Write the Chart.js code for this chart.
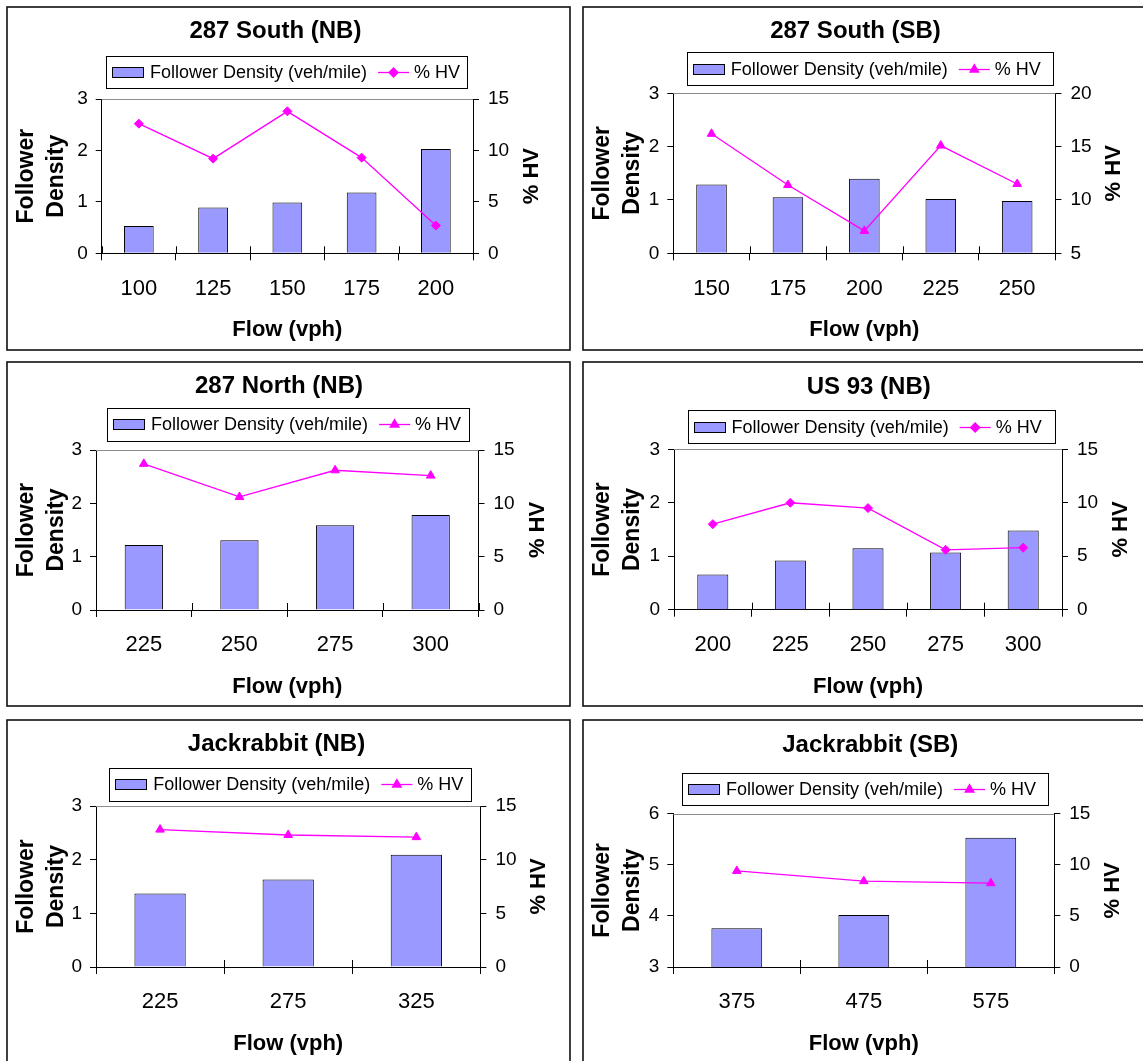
<!DOCTYPE html>
<html>
<head>
<meta charset="utf-8">
<title>Follower Density and % HV by Flow</title>
<script src="https://cdn.jsdelivr.net/npm/chart.js@4.4.1/dist/chart.umd.min.js"></script>
<style>
  html, body { margin: 0; padding: 0; background: #fff; }
  body { position: relative; width: 1143px; height: 1061px; overflow: hidden; }
  canvas { position: absolute; }
</style>
</head>
<body>
<canvas id="p0"></canvas>
<canvas id="p1"></canvas>
<canvas id="p2"></canvas>
<canvas id="p3"></canvas>
<canvas id="p4"></canvas>
<canvas id="p5"></canvas>
<script>
// ---- data -------------------------------------------------------------
const panelTitles = ['287 South (NB)', '287 South (SB)', '287 North (NB)',
                     'US 93 (NB)', 'Jackrabbit (NB)', 'Jackrabbit (SB)'];

const densityLabel = 'Follower Density (veh/mile)';
const hvLabel = '% HV';

const southNbFlow    = ['100', '125', '150', '175', '200'];
const southNbDensity = [0.53, 0.89, 0.99, 1.18, 2.03];
const southNbHv      = [12.6, 9.2, 13.8, 9.3, 2.7];

const southSbFlow    = ['150', '175', '200', '225', '250'];
const southSbDensity = [1.29, 1.05, 1.40, 1.02, 0.98];
const southSbHv      = [16.2, 11.4, 7.1, 15.1, 11.5];

const northNbFlow    = ['225', '250', '275', '300'];
const northNbDensity = [1.22, 1.31, 1.59, 1.78];
const northNbHv      = [13.7, 10.6, 13.1, 12.6];

const us93Flow       = ['200', '225', '250', '275', '300'];
const us93Density    = [0.66, 0.92, 1.15, 1.07, 1.48];
const us93Hv         = [8.0, 10.0, 9.5, 5.6, 5.8];

const jackNbFlow     = ['225', '275', '325'];
const jackNbDensity  = [1.37, 1.63, 2.09];
const jackNbHv       = [12.8, 12.3, 12.1];

const jackSbFlow     = ['375', '475', '575'];
const jackSbDensity  = [3.76, 4.02, 5.53];
const jackSbHv       = [9.4, 8.4, 8.2];

// axis ranges: [min, max, step]
const densityAxes = [[0, 3, 1], [0, 3, 1], [0, 3, 1], [0, 3, 1], [0, 3, 1], [3, 6, 1]];
const hvAxes      = [[0, 15, 5], [5, 20, 5], [0, 15, 5], [0, 15, 5], [0, 15, 5], [0, 15, 5]];

// ---- look -------------------------------------------------------------
const FONT = '"Liberation Sans", Arial, Helvetica, sans-serif';
const BAR_FILL = '#9999FF';
const HV_COLOR = '#FF00FF';

// panel frames: border box [x, y, w, h] on the page
// plot: [left, right, top, bottom] inside the canvas
// head: title centre [x, y]; legend box [x, y, w, h]
const layouts = [
  { box: [7, 7, 563, 343],     plot: [95.7, 467, 93, 247.3],   head: [269.4, 25.7], legend: [100, 49.7, 361, 31.7],   marker: 'rectRot' },
  { box: [583, 7, 563, 343],   plot: [91.3, 473.4, 87.3, 247.3], head: [273.5, 25.7], legend: [104.8, 46.3, 366, 32.7], marker: 'triangle' },
  { box: [7, 362, 563, 344],   plot: [90, 472.5, 89, 249],     head: [273, 25.7],   legend: [101, 46.7, 361.6, 32.6], marker: 'triangle' },
  { box: [583, 362, 563, 344], plot: [92, 480, 88.3, 248.7],   head: [286.7, 26.3], legend: [105.6, 49.3, 367, 33],   marker: 'rectRot' },
  { box: [7, 720, 563, 343],   plot: [90, 474.4, 87, 248],     head: [270.5, 25.3], legend: [103.3, 48.7, 362, 32.6], marker: 'triangle' },
  { box: [583, 720, 563, 343], plot: [91.3, 472.3, 94.7, 248], head: [288.3, 26.3], legend: [100, 53.7, 366, 32.3],   marker: 'triangle' }
];

const series = [
  [southNbFlow, southNbDensity, southNbHv],
  [southSbFlow, southSbDensity, southSbHv],
  [northNbFlow, northNbDensity, northNbHv],
  [us93Flow, us93Density, us93Hv],
  [jackNbFlow, jackNbDensity, jackNbHv],
  [jackSbFlow, jackSbDensity, jackSbHv]
];

function markerRadius(style) { return style === 'rectRot' ? 4.5 : 5; }

// frame, title, legend, axis titles and inner tick stubs
const decorPlugin = {
  id: 'decor',
  afterDraw(chart, args, o) {
    const ctx = chart.ctx;
    const { left, right, top, bottom } = chart.chartArea;
    const W = chart.width, H = chart.height;
    ctx.save();

    // outer panel border
    ctx.strokeStyle = '#111';
    ctx.lineWidth = 1.6;
    ctx.strokeRect(1, 1, W - 2, H - 2);

    // plot area top edge (grey)
    ctx.strokeStyle = '#8c8c8c';
    ctx.lineWidth = 1;
    const ty = Math.round(top) + 0.5;
    ctx.beginPath(); ctx.moveTo(left, ty); ctx.lineTo(right, ty); ctx.stroke();

    // category tick stubs reaching into the plot
    const xs = chart.scales.x;
    const n = chart.data.labels.length;
    ctx.strokeStyle = '#000';
    ctx.beginPath();
    for (let i = 0; i <= n; i++) {
      const px = Math.round(xs.getPixelForValue(i - 0.5)) + 0.5;
      ctx.moveTo(px, bottom); ctx.lineTo(px, bottom - 7);
    }
    ctx.stroke();

    // chart title
    ctx.fillStyle = '#000';
    ctx.textAlign = 'center';
    ctx.textBaseline = 'middle';
    ctx.font = 'bold 24px ' + FONT;
    ctx.fillText(o.title, o.head[0], o.head[1]);

    // legend
    const [lx, ly, lw, lh] = o.legend;
    ctx.strokeStyle = '#000';
    ctx.lineWidth = 1;
    ctx.strokeRect(Math.round(lx) + 0.5, Math.round(ly) + 0.5, Math.round(lw), Math.round(lh));
    const cy = Math.round(ly + lh / 2) + 0.5;
    const sx = Math.round(lx) + 6.5;
    ctx.fillStyle = BAR_FILL;
    ctx.fillRect(sx, cy - 5, 31, 10);
    ctx.strokeRect(sx, cy - 5, 31, 10);
    ctx.fillStyle = '#000';
    ctx.textAlign = 'left';
    ctx.font = '18px ' + FONT;
    const barText = chart.data.datasets[0].label;
    const lineText = chart.data.datasets[1].label;
    const tx = lx + 44;
    ctx.fillText(barText, tx, cy + 1);
    const x1 = tx + ctx.measureText(barText).width + 11;
    ctx.strokeStyle = HV_COLOR;
    ctx.lineWidth = 1.3;
    ctx.beginPath(); ctx.moveTo(x1, cy); ctx.lineTo(x1 + 31, cy); ctx.stroke();
    ctx.fillStyle = HV_COLOR;
    Chart.helpers.drawPoint(ctx, { pointStyle: o.marker, radius: markerRadius(o.marker), rotation: 0, borderWidth: 1 }, x1 + 15.5, cy);
    ctx.fillStyle = '#000';
    ctx.fillText(lineText, x1 + 36, cy + 1);

    // axis titles
    const midY = (top + bottom) / 2;
    ctx.textAlign = 'center';
    ctx.font = 'bold 22px ' + FONT;
    ctx.fillText('Flow (vph)', (left + right) / 2, bottom + 77);

    ctx.save();
    ctx.translate(21, midY);
    ctx.rotate(-Math.PI / 2);
    ctx.font = 'bold 23px ' + FONT;
    ctx.fillText('Follower', 0, 0);
    ctx.restore();

    ctx.save();
    ctx.translate(50.5, midY);
    ctx.rotate(-Math.PI / 2);
    ctx.font = 'bold 23px ' + FONT;
    ctx.fillText('Density', 0, 0);
    ctx.restore();

    ctx.save();
    ctx.translate(right + 59, midY);
    ctx.rotate(-Math.PI / 2);
    ctx.font = 'bold 22px ' + FONT;
    ctx.fillText('% HV', 0, 0);
    ctx.restore();

    ctx.restore();
  }
};

layouts.forEach((lay, i) => {
  const canvas = document.getElementById('p' + i);
  const [bx, by, bw, bh] = lay.box;
  const W = bw + 2, H = bh + 2;
  canvas.width = W; canvas.height = H;
  canvas.style.left = (bx - 1) + 'px';
  canvas.style.top = (by - 1) + 'px';
  canvas.style.width = W + 'px';
  canvas.style.height = H + 'px';

  const [flow, density, hv] = series[i];
  const [dMin, dMax, dStep] = densityAxes[i];
  const [hMin, hMax, hStep] = hvAxes[i];
  const [pl, pr, pt, pb] = lay.plot;

  new Chart(canvas, {
    type: 'bar',
    data: {
      labels: flow,
      datasets: [
        {
          type: 'bar', label: densityLabel, data: density, yAxisID: 'y',
          backgroundColor: BAR_FILL, borderColor: '#000', borderWidth: 1,
          barPercentage: 0.4, categoryPercentage: 1.0, order: 2
        },
        {
          type: 'line', label: hvLabel, data: hv, yAxisID: 'y1',
          borderColor: HV_COLOR, backgroundColor: HV_COLOR, borderWidth: 1.3,
          pointStyle: lay.marker, pointRadius: markerRadius(lay.marker),
          pointBorderColor: HV_COLOR, pointBackgroundColor: HV_COLOR, pointBorderWidth: 1,
          tension: 0, fill: false, order: 1
        }
      ]
    },
    options: {
      responsive: false,
      animation: false,
      devicePixelRatio: 1,
      layout: { padding: { top: pt, left: 0, right: 0, bottom: 0 } },
      plugins: {
        legend: { display: false },
        title: { display: false },
        tooltip: { enabled: false },
        decor: { title: panelTitles[i], head: lay.head, legend: lay.legend, marker: lay.marker }
      },
      scales: {
        x: {
          type: 'category',
          offset: true,
          grid: { offset: true, drawOnChartArea: false, tickLength: 7, color: '#000', lineWidth: 1 },
          border: { color: '#000', width: 1 },
          ticks: { color: '#000', font: { family: FONT, size: 22 }, padding: 15, maxRotation: 0, autoSkip: false },
          afterFit(s) { s.height = H - pb; }
        },
        y: {
          position: 'left',
          min: dMin, max: dMax,
          grid: { drawOnChartArea: false, tickLength: 6, color: '#000', lineWidth: 1 },
          border: { color: '#000', width: 1 },
          ticks: { stepSize: dStep, color: '#000', font: { family: FONT, size: 19 }, padding: 8 },
          afterFit(s) { s.width = pl; }
        },
        y1: {
          position: 'right',
          min: hMin, max: hMax,
          grid: { drawOnChartArea: false, tickLength: 6, color: '#000', lineWidth: 1 },
          border: { color: '#000', width: 1 },
          ticks: { stepSize: hStep, color: '#000', font: { family: FONT, size: 19 }, padding: 9 },
          afterFit(s) { s.width = W - pr; }
        }
      }
    },
    plugins: [decorPlugin]
  });
});
</script>
</body>
</html>
